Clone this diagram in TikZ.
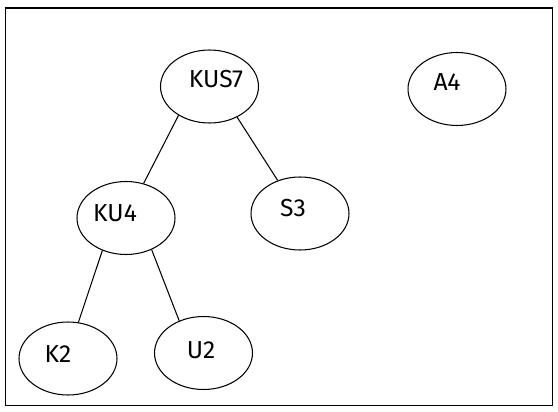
\documentclass[tikz,border=0pt]{standalone}
\usepackage{fontspec}
\setmainfont{Fira Sans}
\usetikzlibrary{shapes.geometric}

\begin{document}
\begin{tikzpicture}[x=0.02cm, y=-0.02cm, line width=0.6pt,
    elli/.style={draw, ellipse, inner sep=0pt, minimum width=1.96cm, minimum height=1.46cm},
    lbl/.style={font=\fontsize{14}{16}\selectfont}]
    \useasboundingbox (0,0) rectangle (558,412);
    \draw (5.5,8) rectangle (552.5,405.5);

    \node[elli] (kus7) at (209.5,86.5) {};
    \node[elli] (a4) at (457,89) {};
    \node[elli] (ku4) at (126,218) {};
    \node[elli] (s3) at (300,213.5) {};
    \node[elli] (k2) at (68,358.5) {};
    \node[elli] (u2) at (203.5,353) {};

    \node[lbl] (kus7txt) at (216,79) {KUS7};
    \node[lbl] (a4txt) at (447,82) {A4};
    \node[lbl] (ku4txt) at (115,213) {KU4};
    \node[lbl] (s3txt) at (293,208) {S3};
    \node[lbl] (k2txt) at (58,354) {K2};
    \node[lbl] (u2txt) at (201,350) {U2};

    \path
        (kus7.223) edge (ku4.63)
        (kus7.312) edge (s3.124)
        (ku4.234) edge (k2.74)
        (ku4.309) edge (u2.127);
\end{tikzpicture}
\end{document}
